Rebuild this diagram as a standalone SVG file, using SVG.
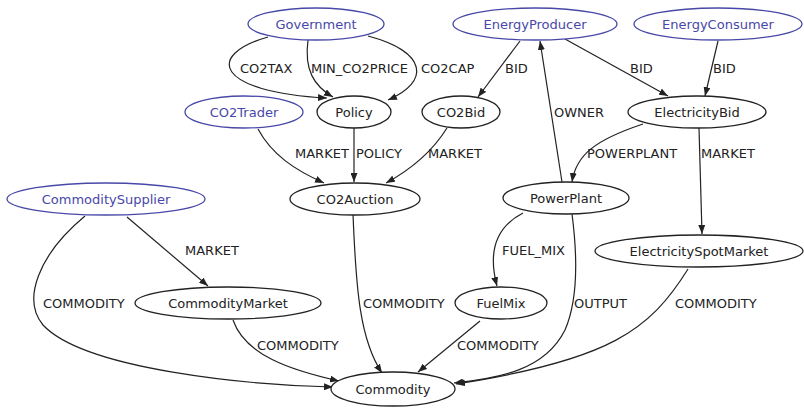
<svg xmlns="http://www.w3.org/2000/svg" width="804" height="410" viewBox="0 0 804 410">
<defs>
<marker id="ah" markerWidth="9" markerHeight="7" refX="9" refY="3.5" orient="auto" markerUnits="userSpaceOnUse">
<path d="M0,0 L9,3.5 L0,7 z" fill="#222"/>
</marker>
<style>
.n ellipse{fill:#fff;stroke:#222;stroke-width:1.3}
.n text{font-family:"DejaVu Sans",sans-serif;font-size:13px;fill:#222;text-anchor:middle}
.b ellipse{stroke:#4848a8}
.b text{fill:#4848a8}
.e path{fill:none;stroke:#222;stroke-width:1.2;marker-end:url(#ah)}
.e text{font-family:"DejaVu Sans",sans-serif;font-size:13px;fill:#222}
</style>
</defs>
<rect width="804" height="410" fill="#fff"/>
<g id="connectors" class="e">
<path d="M268,37 C205,55 215,92 327,98"/>
<text x="240" y="73">CO2TAX</text>
<path d="M308,40 C304,70 314,86 333,97"/>
<text x="311" y="73">MIN_CO2PRICE</text>
<path d="M368,36 C428,52 430,82 388,100"/>
<text x="421" y="73">CO2CAP</text>
<path d="M520,41 L478,97"/>
<text x="505" y="73">BID</text>
<path d="M565,39 L668,96"/>
<text x="630" y="73">BID</text>
<path d="M718,41 L705,96"/>
<text x="713" y="73">BID</text>
<path d="M562,182 L540,41"/>
<text x="554" y="117">OWNER</text>
<path d="M643,124 C595,140 576,155 572,182"/>
<text x="587" y="158">POWERPLANT</text>
<path d="M699,128 L702,234"/>
<text x="701" y="158">MARKET</text>
<path d="M258,129 C272,155 295,170 324,183"/>
<text x="295" y="158">MARKET</text>
<path d="M354,128 L354,182"/>
<text x="356" y="158">POLICY</text>
<path d="M447,128 C432,152 410,170 386,183"/>
<text x="428" y="158">MARKET</text>
<path d="M127,217 L208,286"/>
<text x="185" y="255">MARKET</text>
<path d="M85,216 C38,255 22,300 43,325 C85,370 250,385 333,387"/>
<text x="43" y="308">COMMODITY</text>
<path d="M233,320 C245,355 290,370 339,381"/>
<text x="257" y="350">COMMODITY</text>
<path d="M353,214 C356,290 360,340 382,373"/>
<text x="363" y="308">COMMODITY</text>
<path d="M523,213 C490,230 490,260 497,286"/>
<text x="502" y="255">FUEL_MIX</text>
<path d="M572,214 C578,260 578,300 565,330 C545,370 500,378 454,383"/>
<text x="574" y="308">OUTPUT</text>
<path d="M688,269 C650,330 610,360 456,384"/>
<text x="675" y="308">COMMODITY</text>
<path d="M480,321 L418,372"/>
<text x="457" y="350">COMMODITY</text>
</g>
<g id="Government" class="n b"><ellipse cx="316" cy="24" rx="68" ry="16"/><text x="316" y="29">Government</text></g>
<g id="EnergyProducer" class="n b"><ellipse cx="535" cy="24" rx="82" ry="16"/><text x="535" y="29">EnergyProducer</text></g>
<g id="EnergyConsumer" class="n b"><ellipse cx="718" cy="24" rx="84" ry="16"/><text x="718" y="29">EnergyConsumer</text></g>
<g id="CO2Trader" class="n b"><ellipse cx="244" cy="112" rx="59" ry="16"/><text x="244" y="117">CO2Trader</text></g>
<g id="Policy" class="n"><ellipse cx="354" cy="112" rx="37" ry="16"/><text x="354" y="117">Policy</text></g>
<g id="CO2Bid" class="n"><ellipse cx="461" cy="112" rx="39" ry="16"/><text x="461" y="117">CO2Bid</text></g>
<g id="ElectricityBid" class="n"><ellipse cx="697" cy="112" rx="69" ry="16"/><text x="697" y="117">ElectricityBid</text></g>
<g id="CommoditySupplier" class="n b"><ellipse cx="106" cy="199" rx="99" ry="16"/><text x="106" y="204">CommoditySupplier</text></g>
<g id="CO2Auction" class="n"><ellipse cx="355" cy="199" rx="65" ry="16"/><text x="355" y="204">CO2Auction</text></g>
<g id="PowerPlant" class="n"><ellipse cx="566" cy="198" rx="63" ry="16"/><text x="566" y="203">PowerPlant</text></g>
<g id="ElectricitySpotMarket" class="n"><ellipse cx="699" cy="251" rx="104" ry="16"/><text x="699" y="256">ElectricitySpotMarket</text></g>
<g id="CommodityMarket" class="n"><ellipse cx="228" cy="303" rx="93" ry="16"/><text x="228" y="308">CommodityMarket</text></g>
<g id="FuelMix" class="n"><ellipse cx="501" cy="303" rx="46" ry="16"/><text x="501" y="308">FuelMix</text></g>
<g id="Commodity" class="n"><ellipse cx="393" cy="389" rx="62" ry="17"/><text x="393" y="394">Commodity</text></g>
</svg>
